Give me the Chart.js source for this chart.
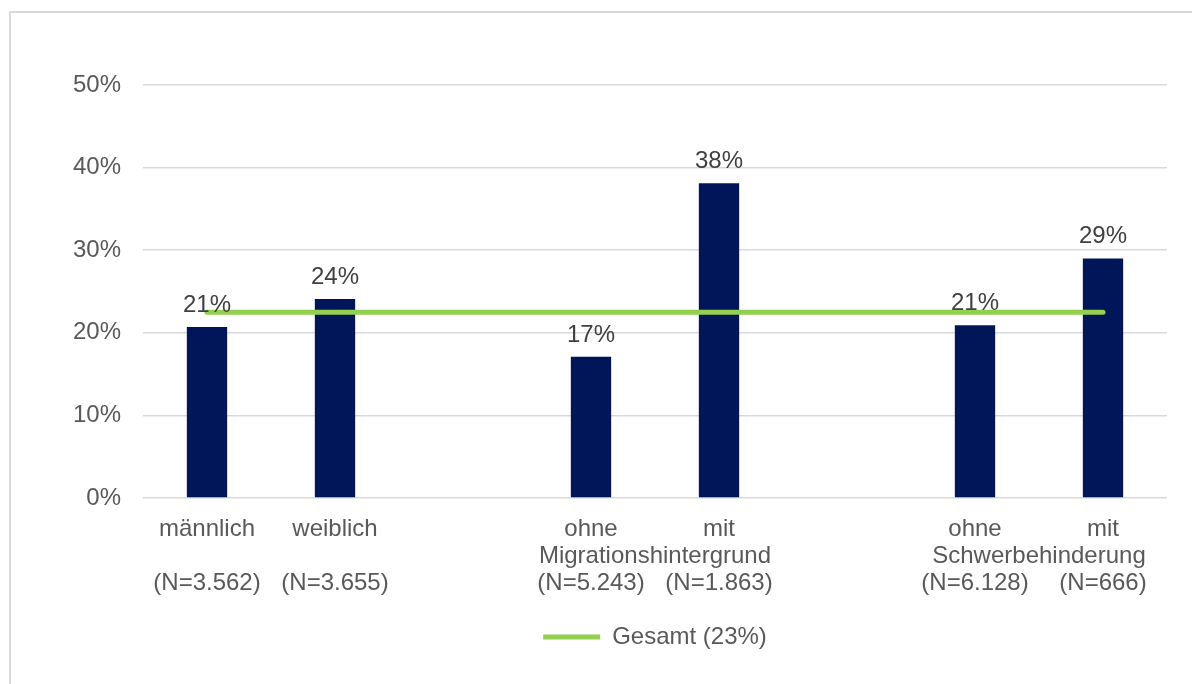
<!DOCTYPE html>
<html>
<head>
<meta charset="utf-8">
<script src="https://cdn.jsdelivr.net/npm/chart.js@4/dist/chart.umd.min.js"></script>
<style>
	html, body { margin: 0; padding: 0; background: #fff; overflow: hidden; }
</style>
</head>
<body>
<canvas id="chart" width="1192" height="684"></canvas>
<script>
	// data
	var topLabels = ['männlich', 'weiblich', '', 'ohne', 'mit', '', 'ohne', 'mit'];
	var nLabels = ['(N=3.562)', '(N=3.655)', '', '(N=5.243)', '(N=1.863)', '', '(N=6.128)', '(N=666)'];
	var values = [20.7, 24.1, null, 17.1, 38.1, null, 20.9, 29.0];
	var gesamt = [22.5, 22.5, 22.5, 22.5, 22.5, 22.5, 22.5, 22.5];
	var gesamtLabel = 'Gesamt (23%)';
	var groupNames = ['Migrationshintergrund', 'Schwerbehinderung'];
	var groupMembers = [[3, 4], [6, 7]];
	var yTicks = [0, 10, 20, 30, 40, 50];

	var FONT = '"Liberation Sans", Arial, sans-serif';
	var TEXT = '#595959';

	// light frame round the figure (top and left edge only visible)
	var frame = {
		id: 'frame',
		beforeDraw: function(chart){
			var ctx = chart.ctx;
			ctx.save();
			ctx.strokeStyle = '#d9d9d9';
			ctx.lineWidth = 2;
			ctx.beginPath();
			ctx.moveTo(10, chart.height);
			ctx.lineTo(10, 12);
			ctx.lineTo(chart.width, 12);
			ctx.stroke();
			ctx.restore();
		}
	};

	// value labels above bars + group names under the tick labels
	var extraText = {
		id: 'extraText',
		afterDatasetsDraw: function(chart){
			var ctx = chart.ctx;
			var meta = chart.getDatasetMeta(0);
			ctx.save();
			ctx.font = '24px ' + FONT;
			ctx.fillStyle = '#404040';
			ctx.textAlign = 'center';
			ctx.textBaseline = 'alphabetic';
			meta.data.forEach(function(bar, i){
				if (values[i] == null) return;
				ctx.fillText(Math.round(values[i]) + '%', bar.x, bar.y - 15);
			});
			var xs = chart.scales.x;
			ctx.fillStyle = TEXT;
			ctx.textBaseline = 'middle';
			for (var g = 0; g < groupNames.length; g++) {
				var a = xs.getPixelForValue(groupMembers[g][0]);
				var b = xs.getPixelForValue(groupMembers[g][1]);
				ctx.fillText(groupNames[g], (a + b) / 2, xs.top + 18 + 27 + 13.5);
			}
			ctx.restore();
		}
	};

	var ctx = document.getElementById('chart');

	new Chart(ctx, {
		type: 'bar',
		data: {
			labels: topLabels,
			datasets: [{
				label: 'Anteil',
				data: values,
				backgroundColor: '#001659',
				categoryPercentage: 1,
				barPercentage: 0.315,
				order: 1
			}, {
				type: 'line',
				label: gesamtLabel,
				data: gesamt,
				borderColor: '#92d050',
				backgroundColor: '#92d050',
				borderWidth: 5,
				borderCapStyle: 'round',
				pointRadius: 0,
				pointStyle: 'line',
				order: 0
			}]
		},
		options: {
			responsive: false,
			animation: false,
			layout: {
				padding: { left: 67, right: 25, top: 85, bottom: 25 }
			},
			scales: {
				x: {
					grid: { display: false, drawTicks: false },
					border: { display: false },
					ticks: {
						padding: 18,
						color: TEXT,
						font: { family: FONT, size: 24, lineHeight: '27px' },
						maxRotation: 0,
						autoSkip: false,
						callback: function(v, i){
							return [topLabels[i], '', nLabels[i]];
						}
					},
					afterFit: function(scale){ scale.height = 117; }
				},
				y: {
					min: 0,
					max: 50,
					grid: { color: '#d9d9d9', lineWidth: 1.5, drawTicks: false },
					border: { display: false },
					afterBuildTicks: function(scale){
						scale.ticks = yTicks.map(function(v){ return { value: v }; });
					},
					ticks: {
						padding: 22,
						color: TEXT,
						font: { family: FONT, size: 24 },
						callback: function(v){ return v + '%'; }
					},
					afterFit: function(scale){ scale.width = 76; }
				}
			},
			plugins: {
				legend: {
					position: 'bottom',
					fullSize: false,
					labels: {
						usePointStyle: true,
						pointStyleWidth: 57,
						color: TEXT,
						font: { family: FONT, size: 24 },
						filter: function(item){ return item.datasetIndex === 1; }
					}
				},
				tooltip: { enabled: false }
			}
		},
		plugins: [frame, extraText]
	});
</script>
</body>
</html>
